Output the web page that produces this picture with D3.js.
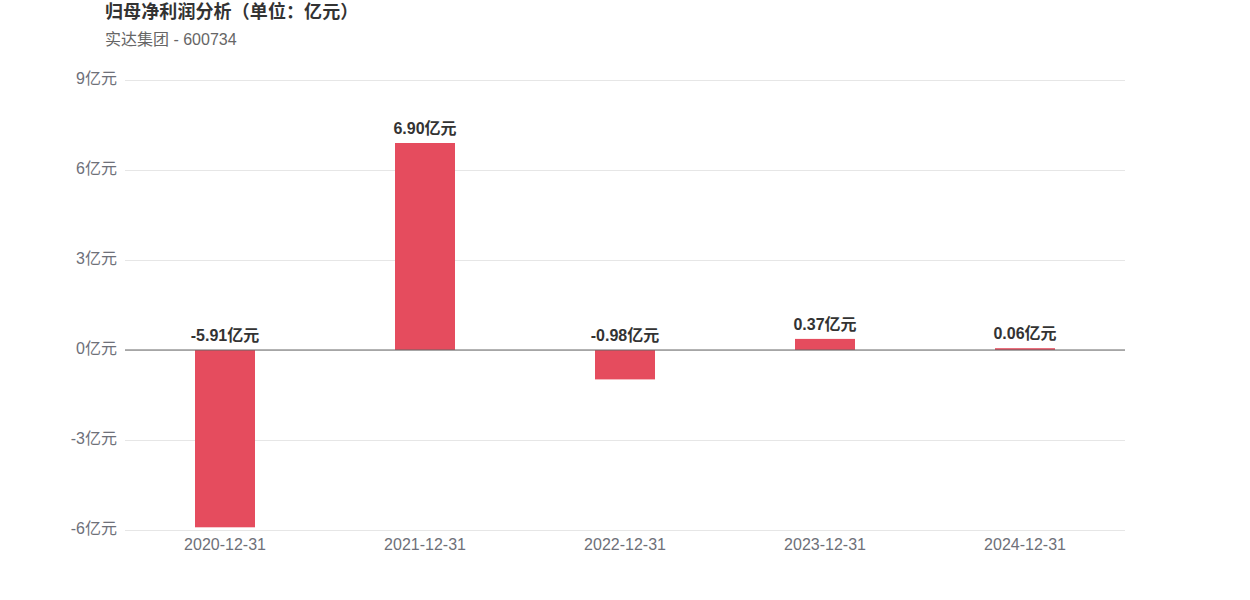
<!DOCTYPE html>
<html><head><meta charset="utf-8">
<script src="https://cdn.jsdelivr.net/npm/d3@7"></script>
<style>body{margin:0;background:#fff;} svg{display:block;font-family:"Liberation Sans","Noto Sans CJK SC",sans-serif;}</style>
</head><body>
<svg id="c" width="1250" height="600"></svg>
<script>
const categories = ["2020-12-31","2021-12-31","2022-12-31","2023-12-31","2024-12-31"];
const values = [-5.91, 6.90, -0.98, 0.37, 0.06];
const yTicks = [-6, -3, 0, 3, 6, 9];
const titleText = "归母净利润分析（单位：亿元）";
const subtitleText = "实达集团 - 600734";

(function () {
const svg = d3.select("#c");
const mLeft = 125, mRight = 1125, mTop = 80, mBottom = 530;
const x = d3.scaleBand().domain(categories).range([mLeft, mRight]);
const y = d3.scaleLinear().domain([-6, 9]).range([mBottom, mTop]);
const ff = '"Liberation Sans","Noto Sans CJK SC",sans-serif';

svg.append("text").attr("x", 105).attr("y", 18).attr("font-size", 18).attr("font-weight", "bold").attr("fill", "#333").attr("letter-spacing", 0.1).text(titleText);
svg.append("text").attr("x", 105).attr("y", 45).attr("font-size", 16).attr("fill", "#666").text(subtitleText);

const yAxis = d3.axisLeft(y).tickValues(yTicks).tickSize(-(mRight - mLeft)).tickPadding(8).tickFormat(d => d + "亿元");
const gy = svg.append("g").attr("transform", `translate(${mLeft},0)`).call(yAxis);
gy.select(".domain").remove();
gy.selectAll(".tick line").attr("stroke", "#e6e6e6");
gy.selectAll(".tick text").attr("font-size", 16).attr("fill", "#6e7079").attr("font-family", ff).attr("dy", "0.2em");

svg.append("g").selectAll("rect").data(values).join("rect")
  .attr("x", (d, i) => x(categories[i]) + x.bandwidth() / 2 - 30)
  .attr("width", 60)
  .attr("y", d => y(Math.max(0, d)))
  .attr("height", d => Math.abs(y(d) - y(0)))
  .attr("fill", "#e54c5e");

svg.append("line").attr("x1", mLeft).attr("x2", mRight).attr("y1", y(0)).attr("y2", y(0)).attr("stroke", "#666").attr("stroke-width", 1);

const xAxis = d3.axisBottom(x).tickSize(0).tickPadding(9);
const gx = svg.append("g").attr("transform", `translate(0,${mBottom})`).call(xAxis);
gx.select(".domain").remove();
gx.selectAll(".tick text").attr("font-size", 16).attr("fill", "#6e7079").attr("font-family", ff);

svg.append("g").selectAll("text").data(values).join("text")
  .attr("x", (d, i) => x(categories[i]) + x.bandwidth() / 2)
  .attr("y", d => y(Math.max(0, d)) - 9)
  .attr("text-anchor", "middle").attr("font-size", 16).attr("font-weight", "bold").attr("fill", "#333")
  .text(d => d.toFixed(2) + "亿元");
})();
</script>
</body></html>
